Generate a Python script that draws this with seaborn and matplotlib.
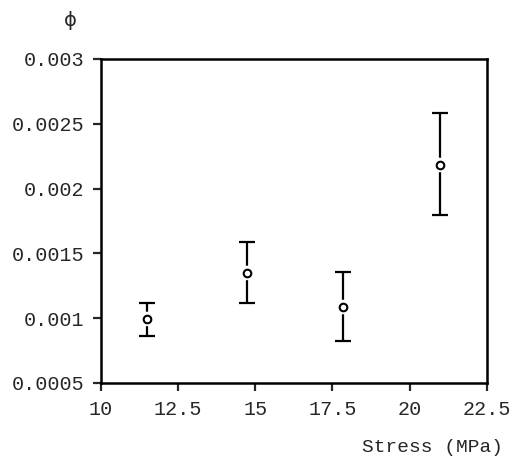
import matplotlib
matplotlib.use("Agg")
import numpy as np
import pandas as pd
import matplotlib.pyplot as plt
import seaborn as sns

# Data
stress = [11.5, 14.72, 17.83, 20.97]
phi = [0.000994, 0.001349, 0.001086, 0.002182]
phi_low = [0.000863, 0.001117, 0.000824, 0.001796]
phi_high = [0.001117, 0.001588, 0.001357, 0.002583]

xticks = [10, 12.5, 15, 17.5, 20, 22.5]
xtick_labels = ["10", "12.5", "15", "17.5", "20", "22.5"]
yticks = [0.0005, 0.001, 0.0015, 0.002, 0.0025, 0.003]
ytick_labels = ["0.0005", "0.001", "0.0015", "0.002", "0.0025", "0.003"]

df = pd.DataFrame({"stress": stress, "phi": phi})

sns.set_style("ticks")
plt.rcParams["font.family"] = ["Liberation Mono", "DejaVu Sans"]

fig = plt.figure(figsize=(5.12, 4.59), dpi=100)
ax = fig.add_axes([0.197, 0.1656, 0.754, 0.706])

yerr = np.array([np.array(phi) - np.array(phi_low), np.array(phi_high) - np.array(phi)])
ax.errorbar(stress, phi, yerr=yerr, fmt="none", ecolor="black", elinewidth=1.6,
            capsize=6, capthick=1.6, zorder=2)

# white halo so the bar stops short of the marker
sns.scatterplot(data=df, x="stress", y="phi", ax=ax, s=110, color="white",
                edgecolor="none", zorder=3, legend=False)
sns.scatterplot(data=df, x="stress", y="phi", ax=ax, s=30, color="white",
                edgecolor="black", linewidth=1.5, zorder=4, legend=False)

ax.set_xlim(10, 22.5)
ax.set_ylim(0.0005, 0.003)
ax.set_xticks(xticks)
ax.set_xticklabels(xtick_labels)
ax.set_yticks(yticks)
ax.set_yticklabels(ytick_labels)
ax.tick_params(direction="out", length=6, width=1.6, labelsize=14.5, pad=6)
for sp in ax.spines.values():
    sp.set_visible(True)
    sp.set_linewidth(1.8)
    sp.set_color("black")
ax.set_xlabel("")
ax.set_ylabel("")

fig.text(0.137, 0.955, "\u03d5", fontsize=14, ha="center", va="center", family=["DejaVu Sans"])
fig.text(0.983, 0.025, "Stress (MPa)", fontsize=14, ha="right", va="center")

fig.savefig("out.png", dpi=100)
